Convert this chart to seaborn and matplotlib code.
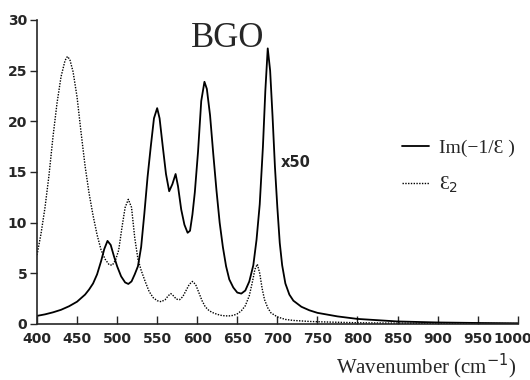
import numpy as np
import pandas as pd
import matplotlib
matplotlib.use("Agg")
import matplotlib.pyplot as plt
import matplotlib.transforms as mtransforms
import seaborn as sns
from matplotlib.lines import Line2D

# Im(-1/eps) (x50)
loss_wn = [400, 410, 420, 430, 440, 450, 460, 465, 470, 475, 480, 484, 488, 492, 496,
           500, 505, 510, 514, 518, 522, 526, 530, 534, 538, 542, 546, 550, 553, 557,
           561, 565, 569, 573, 576, 580, 584, 588, 591, 594, 597, 601, 605, 609, 612,
           616, 620, 624, 628, 632, 636, 640, 645, 650, 655, 660, 665, 670, 674, 678,
           682, 685, 688, 691, 694, 697, 700, 703, 706, 710, 715, 720, 730, 740, 750,
           775, 800, 850, 900, 950, 1000]
loss_val = [0.8, 0.95, 1.15, 1.4, 1.75, 2.2, 2.9, 3.4, 4.0, 4.9, 6.2, 7.4, 8.2, 7.8, 6.7,
            5.7, 4.7, 4.1, 3.95, 4.2, 4.9, 5.7, 7.6, 10.9, 14.5, 17.5, 20.3, 21.3, 20.3, 17.5,
            14.8, 13.1, 13.8, 14.8, 13.6, 11.3, 9.8, 9.0, 9.2, 10.8, 13.0, 17.0, 22.0, 23.9, 23.2,
            20.6, 16.8, 13.2, 10.0, 7.6, 5.7, 4.4, 3.6, 3.1, 3.0, 3.3, 4.2, 5.8, 8.3, 11.8,
            17.5, 23.0, 27.2, 25.0, 20.5, 15.5, 11.5, 8.0, 5.8, 4.0, 2.9, 2.3, 1.7, 1.35, 1.1,
            0.75, 0.5, 0.25, 0.15, 0.1, 0.07]

# eps_2
eps_wn = [400, 405, 410, 415, 420, 425, 430, 435, 438, 441, 445, 450, 455, 460, 465,
          470, 475, 480, 485, 490, 494, 498, 502, 506, 510, 514, 518, 522, 526, 530,
          535, 540, 545, 550, 555, 560, 564, 567, 570, 574, 578, 582, 586, 590, 594,
          598, 602, 606, 610, 615, 620, 625, 630, 635, 640, 645, 650, 655, 660, 665,
          669, 672, 675, 678, 681, 684, 688, 692, 700, 710, 720, 740, 760, 800, 850,
          900, 1000]
eps_val = [6.8, 8.9, 11.5, 14.7, 18.5, 21.8, 24.4, 26.0, 26.4, 26.1, 24.9, 22.4, 18.9, 15.6, 12.9,
           10.7, 8.8, 7.3, 6.4, 5.85, 5.8, 6.3, 7.3, 9.5, 11.5, 12.3, 11.5, 8.5, 6.4, 5.3,
           4.2, 3.2, 2.6, 2.3, 2.2, 2.4, 2.8, 3.0, 2.8, 2.45, 2.4, 2.7, 3.3, 3.9, 4.2,
           3.9, 3.1, 2.3, 1.7, 1.3, 1.1, 0.95, 0.85, 0.8, 0.8, 0.85, 1.0, 1.3, 1.8, 2.8,
           4.2, 5.4, 5.9, 5.0, 3.5, 2.4, 1.6, 1.1, 0.7, 0.45, 0.35, 0.25, 0.2, 0.12, 0.08,
           0.06, 0.04]

x_ticks = [400, 450, 500, 550, 600, 650, 700, 750, 800, 850, 900, 950, 1000]
y_ticks = [0, 5, 10, 15, 20, 25, 30]

sns.set_style("ticks")
plt.rcParams['font.family'] = ['DejaVu Serif', 'DejaVu Sans']

fig = plt.figure(figsize=(5.3, 3.8), dpi=100)
ax = fig.add_axes([0.0698, 0.1474, 0.907, 0.80])

df_loss = pd.DataFrame({"wn": loss_wn, "val": loss_val})
df_eps = pd.DataFrame({"wn": eps_wn, "val": eps_val})

sns.lineplot(data=df_loss, x="wn", y="val", ax=ax, color="black", lw=1.3, sort=True)
sns.lineplot(data=df_eps, x="wn", y="val", ax=ax, color="black", lw=1.0,
             linestyle=(0, (1, 1)), sort=True)

ax.set_xlim(400, 1000)
ax.set_ylim(0, 30)
ax.set_xticks(x_ticks)
ax.set_yticks(y_ticks)
sns.despine(ax=ax)
ax.spines['left'].set_linewidth(1.2)
ax.spines['bottom'].set_linewidth(1.2)
ax.tick_params(axis='x', direction='in', length=6, width=1.0, pad=6)
ax.tick_params(axis='y', direction='out', length=5, width=1.0, pad=2)

tick_font = dict(family='Liberation Sans Narrow', weight='bold', size=10)
ax.set_xticklabels([str(t) for t in x_ticks], fontdict=tick_font)
ax.set_yticklabels([str(t) for t in y_ticks], fontdict=tick_font)

# nudge the last x tick label so it stays inside the figure
last = ax.get_xticklabels()[-1]
last.set_transform(last.get_transform() +
                   mtransforms.ScaledTranslation(-5 / 100, 0, fig.dpi_scale_trans))

ax.set_xlabel("Wavenumber (cm$^{-1}$)", fontsize=15, family='Liberation Serif')
ax.xaxis.set_label_coords(0.998, -0.14)
ax.xaxis.label.set_horizontalalignment('right')
ax.xaxis.label.set_verticalalignment('center')
ax.set_ylabel("")

ax.text(638, 28.2, "BGO", fontsize=25, family='Liberation Serif', ha='center', va='center')
ax.text(704, 15.9, "x50", fontsize=10.5, weight='bold', family='Liberation Sans Narrow',
        ha='left', va='center')

handles = [Line2D([], [], color='black', lw=1.3),
           Line2D([], [], color='black', lw=1.0, linestyle=(0, (1, 1)))]
labels = ["Im(\u22121/\u0190 )", "\u0190$_{2}$"]
ax.legend(handles, labels, loc='upper left', bbox_to_anchor=(0.722, 0.665),
          frameon=False, handlelength=1.4, handletextpad=0.5,
          labelspacing=0.9, prop=dict(family='Liberation Serif', size=14))

fig.savefig("out.png", dpi=100)
